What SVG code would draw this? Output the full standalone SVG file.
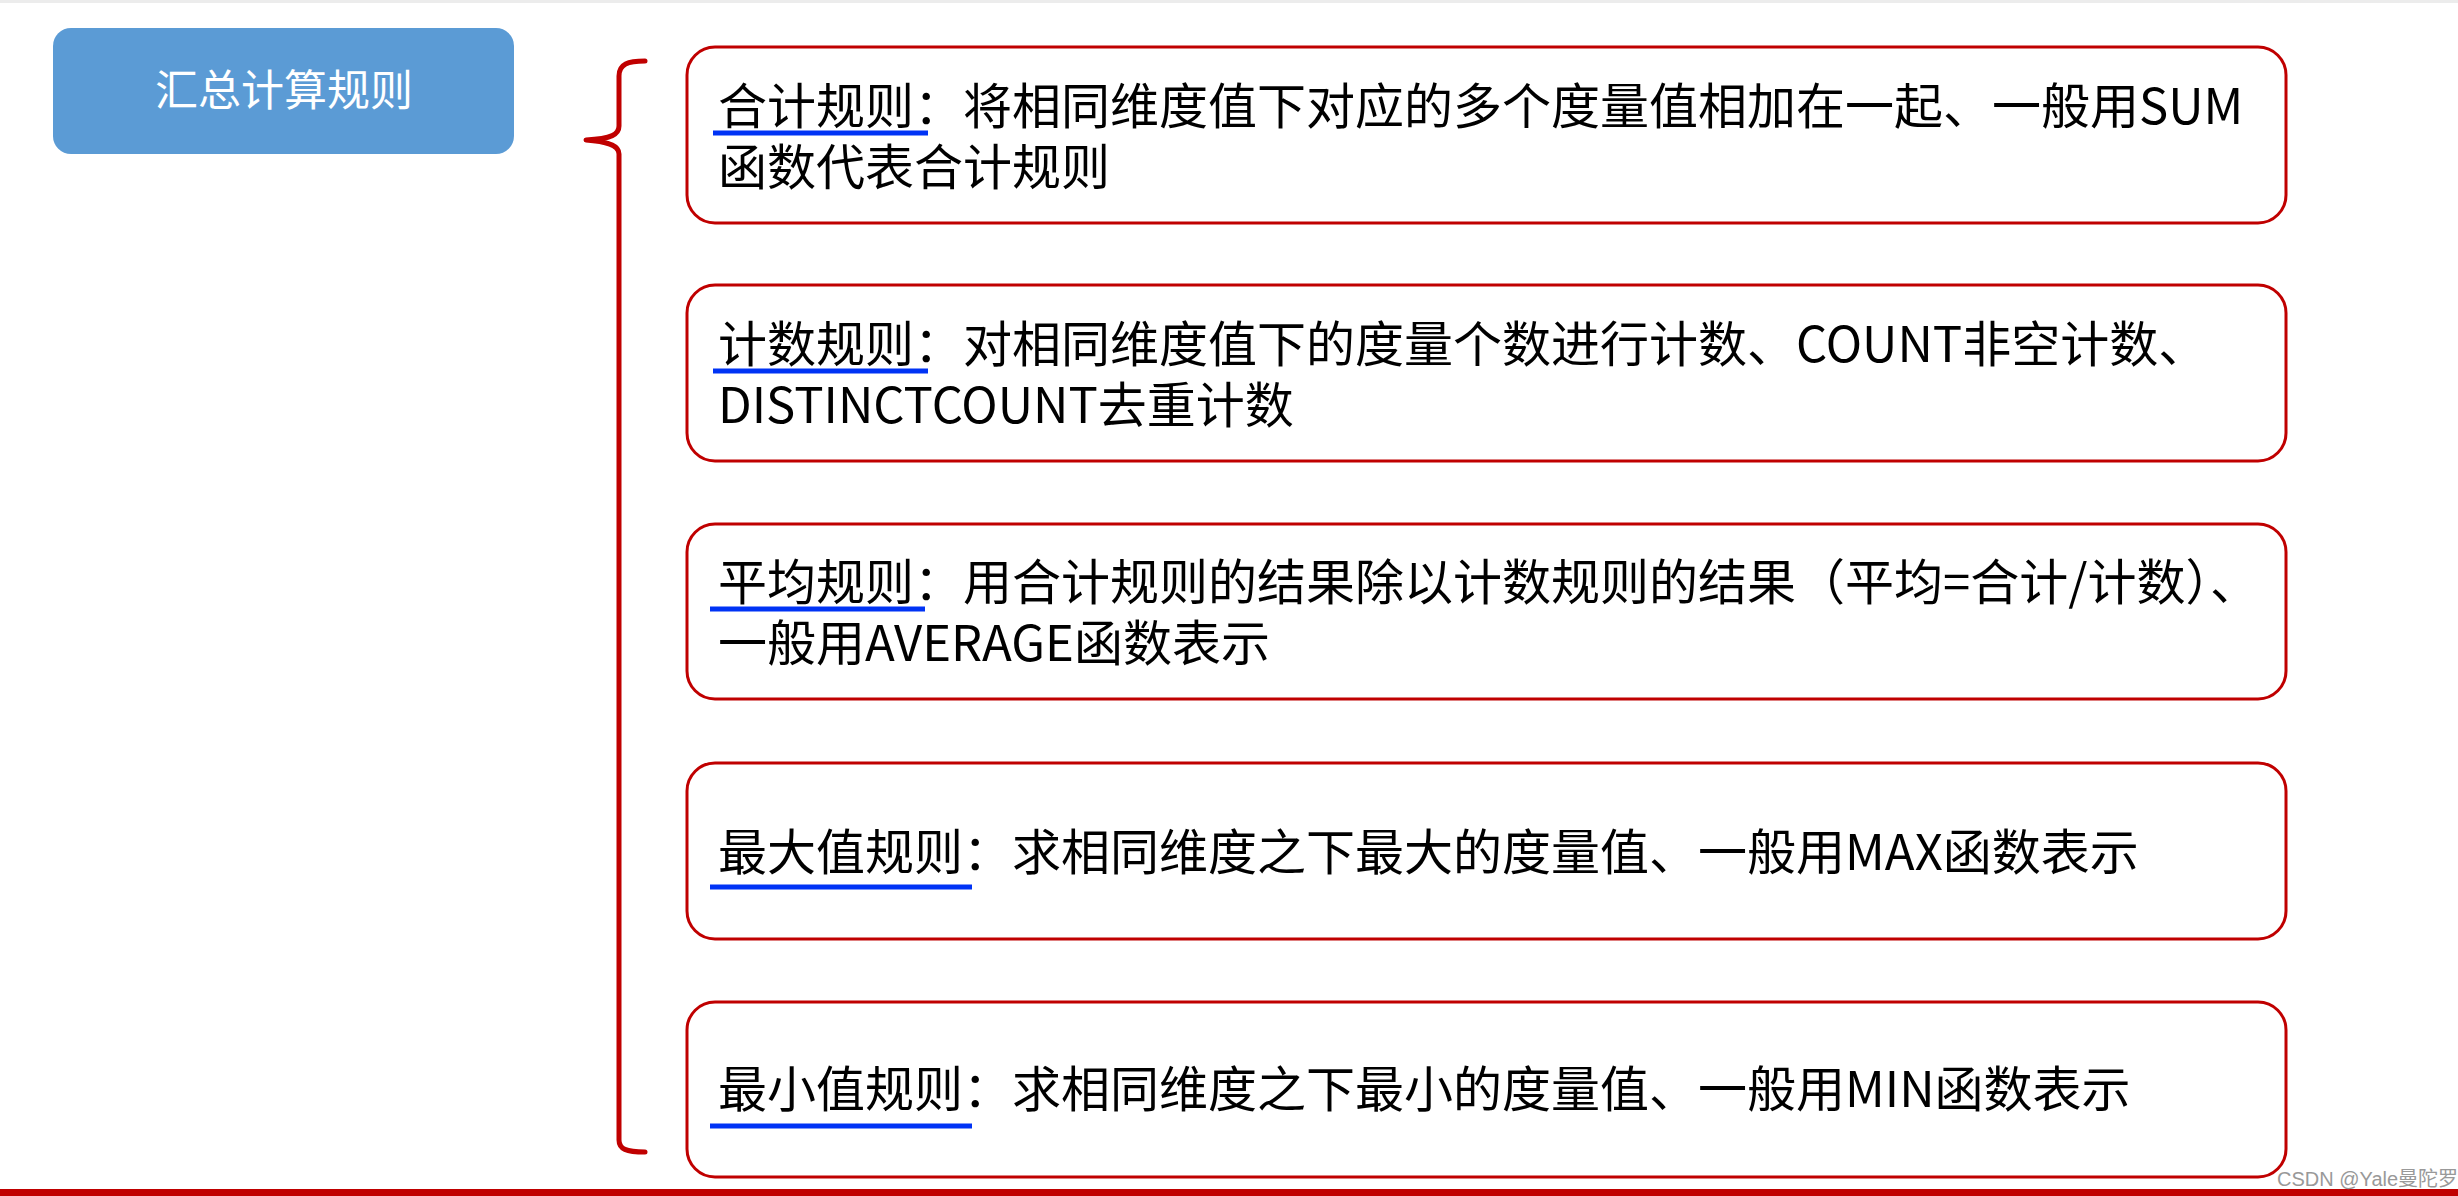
<svg xmlns="http://www.w3.org/2000/svg" width="2458" height="1196" viewBox="0 0 2458 1196">
<style>
.box{fill:#fff;stroke:#C00000;stroke-width:3}
.t{font-family:"Noto Sans CJK SC","Noto Sans",sans-serif;font-size:49px;fill:#000}
.ul{stroke:#0033F5;stroke-width:5}
.brace{fill:none;stroke:#C00000;stroke-width:5;stroke-linecap:round;stroke-linejoin:round}
</style>
<rect x="0" y="0" width="2458" height="1196" fill="#fff"/>
<rect x="0" y="0" width="2458" height="3" fill="#ececec"/>
<g id="title">
<rect x="53" y="28" width="461" height="126" rx="18" fill="#5B9BD5"/>
<text x="284" y="106" text-anchor="middle" font-family="Noto Sans CJK SC,sans-serif" font-size="43" fill="#fff">汇总计算规则</text>
</g>
<g id="connectors">
<path class="brace" d="M645,61 C628,61 619,64 619,76 L619,126 C619,134 612,139 586,140 C612,142 619,147 619,154 L619,1140 C619,1149 626,1152 645,1152"/>
</g>
<g id="sum">
<rect class="box" x="687" y="47" width="1599" height="176" rx="28"/>
<text class="t" x="718" y="124">合计规则：将相同维度值下对应的多个度量值相加在一起、一般用SUM</text>
<text class="t" x="718" y="185">函数代表合计规则</text>
<line class="ul" x1="713" y1="133" x2="928" y2="133"/>
</g>
<g id="count">
<rect class="box" x="687" y="285" width="1599" height="176" rx="28"/>
<text class="t" x="718" y="362">计数规则：对相同维度值下的度量个数进行计数、COUNT非空计数、</text>
<text class="t" x="718" y="423">DISTINCTCOUNT去重计数</text>
<line class="ul" x1="713" y1="371" x2="928" y2="371"/>
</g>
<g id="average">
<rect class="box" x="687" y="524" width="1599" height="175" rx="28"/>
<text class="t" x="718" y="600">平均规则：用合计规则的结果除以计数规则的结果（平均=合计/计数）、</text>
<text class="t" x="718" y="661">一般用AVERAGE函数表示</text>
<line class="ul" x1="710" y1="609" x2="925" y2="609"/>
</g>
<g id="max">
<rect class="box" x="687" y="763" width="1599" height="176" rx="28"/>
<text class="t" x="718" y="870">最大值规则：求相同维度之下最大的度量值、一般用MAX函数表示</text>
<line class="ul" x1="710" y1="887" x2="972" y2="887"/>
</g>
<g id="min">
<rect class="box" x="687" y="1002" width="1599" height="175" rx="28"/>
<text class="t" x="718" y="1107">最小值规则：求相同维度之下最小的度量值、一般用MIN函数表示</text>
<line class="ul" x1="710" y1="1126" x2="972" y2="1126"/>
</g>
<rect x="0" y="1189" width="2458" height="7" fill="#C00000"/>
<text x="2277" y="1186" font-family="Liberation Sans,Noto Sans CJK SC,sans-serif" font-size="20" fill="#999">CSDN @Yale曼陀罗</text>
</svg>
